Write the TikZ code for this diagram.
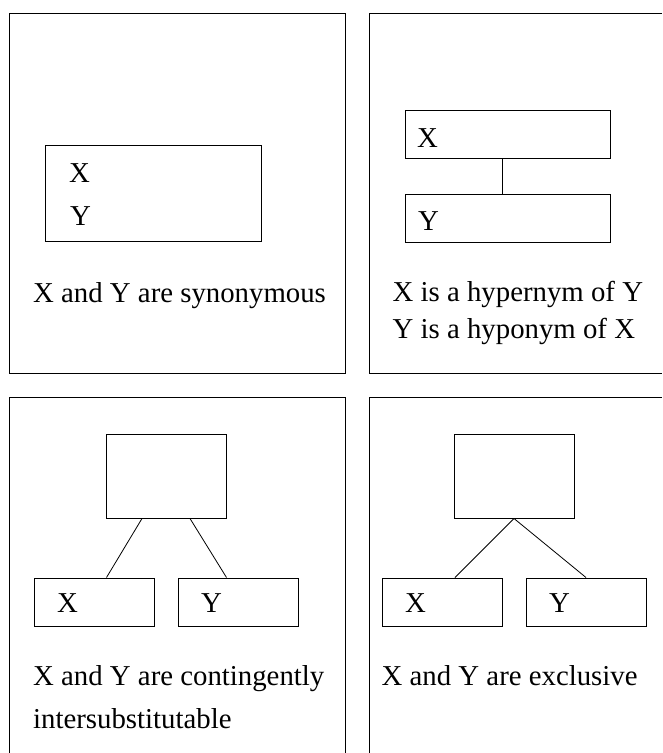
\documentclass[tikz,border=0pt]{standalone}
\usepackage{fontspec}
\setmainfont{Liberation Serif}
\begin{document}
\begin{tikzpicture}[x=1pt,y=-1pt,
  panel/.style={line width=1pt, black},
  box/.style={draw, line width=1pt, inner sep=0pt, anchor=north west},
  lbl/.style={anchor=base west, inner sep=0pt, font=\fontsize{28.8}{36}\selectfont},
  link/.style={line width=0.8pt}]
\useasboundingbox (0,0) rectangle (662,753);
% panel frames
\draw[panel] (9,13) rectangle (345,373);
\draw[panel] (662,13) -- (369,13) -- (369,373) -- (662,373);
\draw[panel] (9,753) -- (9,397) -- (345,397) -- (345,753);
\draw[panel] (369,753) -- (369,397) -- (662,397);

% panel 1: synonymy
\node[box, minimum width=216, minimum height=96] (syn) at (45,145) {};
\node[lbl] (synx) at (69,182) {X};
\node[lbl] (syny) at (70,225) {Y};
\node[lbl] (syntext) at (33,302) {X and Y are synonymous};

% panel 2: hypernymy
\node[box, minimum width=205, minimum height=48] (hx) at (404.5,109.5) {};
\node[box, minimum width=205, minimum height=48] (hy) at (404.5,193.5) {};
\node[lbl] (hxl) at (417,147) {X};
\node[lbl] (hyl) at (418,230) {Y};
\draw[link] ([xshift=-5pt]hx.south) -- ([xshift=-5pt]hy.north);
\node[lbl] (ht1) at (392.5,301.5) {X is a hypernym of Y};
\node[lbl] (ht2) at (392.5,338.5) {Y is a hyponym of X};

% panel 3: contingent intersubstitutability
\node[box, minimum width=120, minimum height=84] (ct) at (105.5,433.5) {};
\node[box, minimum width=120, minimum height=48] (cx) at (33.5,577.5) {};
\node[box, minimum width=120, minimum height=48] (cy) at (177.5,577.5) {};
\node[lbl] (cxl) at (57,612) {X};
\node[lbl] (cyl) at (201,612) {Y};
\draw[link] ([xshift=-24pt]ct.south) -- ([xshift=12.5pt]cx.north);
\draw[link] ([xshift=24pt]ct.south) -- ([xshift=-11.5pt]cy.north);
\node[lbl] (ct1) at (33,685) {X and Y are contingently};
\node[lbl] (ct2) at (33,728) {intersubstitutable};

% panel 4: exclusivity
\node[box, minimum width=120, minimum height=84] (et) at (453.5,433.5) {};
\node[box, minimum width=120, minimum height=48] (ex) at (381.5,577.5) {};
\node[box, minimum width=120, minimum height=48] (ey) at (525.5,577.5) {};
\node[lbl] (exl) at (405,612) {X};
\node[lbl] (eyl) at (549,612) {Y};
\draw[link] (et.south) -- ([xshift=13pt]ex.north);
\draw[link] (et.south) -- (ey.north);
\node[lbl] (etext) at (381.5,685) {X and Y are exclusive};
\end{tikzpicture}
\end{document}
